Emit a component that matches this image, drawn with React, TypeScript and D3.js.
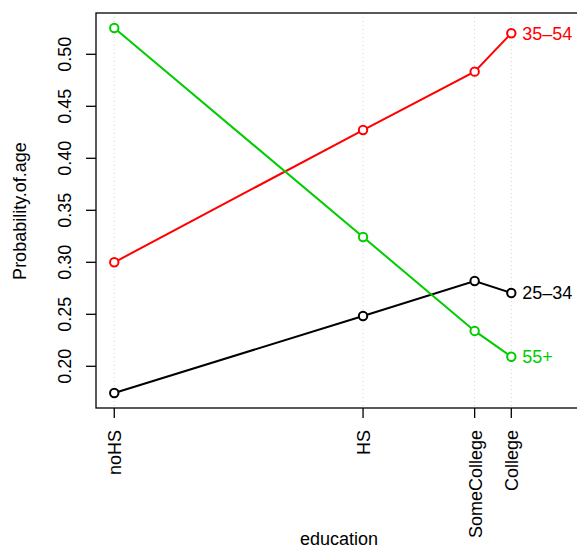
import React from "react";
import * as d3 from "d3";

const educationLevels = ["noHS", "HS", "SomeCollege", "College"];
// horizontal position of each education level on the axis
const educationPos = [0, 0.6266, 0.9077, 1.0];

const seriesNames = ["25–34", "35–54", "55+"];
const age25to34 = [0.1743, 0.2484, 0.2820, 0.2705];
const age35to54 = [0.3000, 0.4272, 0.4833, 0.5202];
const age55plus = [0.5253, 0.3243, 0.2340, 0.2092];
const seriesColors = ["#000000", "#FF0000", "#00CD00"];

const yTicks = [0.2, 0.25, 0.3, 0.35, 0.4, 0.45, 0.5];

const W = 577;
const H = 549;
const left = 96;
const right = 578;
const top = 13;
const bottom = 408;
const FONT = "'Liberation Sans', Arial, Helvetica, sans-serif";

export default function App() {
  const x = d3.scaleLinear().domain([-0.046, 1.168]).range([left, right]);
  const y = d3.scaleLinear().domain([0.2, 0.5]).range([366.3, 54.3]);
  const series = [age25to34, age35to54, age55plus];
  const line = d3
    .line<number>()
    .x((_, i) => x(educationPos[i]))
    .y((d) => y(d));

  return (
    <svg
      width={W}
      height={H}
      style={{ position: "absolute", left: 0, top: 0, background: "#fff" }}
      fontFamily={FONT}
    >
      <rect x={0} y={0} width={W} height={H} fill="#fff" />
      {/* dotted guides at each education level */}
      {educationPos.map((p, i) => (
        <line
          key={"g" + i}
          x1={x(p)}
          x2={x(p)}
          y1={top}
          y2={bottom}
          stroke="#D3D3D3"
          strokeWidth={1}
          strokeDasharray="1 3"
        />
      ))}
      {/* series lines and points */}
      {series.map((vals, s) => (
        <g key={"s" + s}>
          <path d={line(vals) || ""} fill="none" stroke={seriesColors[s]} strokeWidth={2} />
          {vals.map((v, i) => (
            <circle
              key={i}
              cx={x(educationPos[i])}
              cy={y(v)}
              r={4.2}
              fill="#fff"
              stroke={seriesColors[s]}
              strokeWidth={2}
            />
          ))}
          <text
            x={x(educationPos[3]) + 11}
            y={y(vals[3]) + 6.5}
            fontSize={18}
            fill={seriesColors[s]}
          >
            {seriesNames[s]}
          </text>
        </g>
      ))}
      {/* plot frame */}
      <rect
        x={left}
        y={top}
        width={right - left}
        height={bottom - top}
        fill="none"
        stroke="#000"
        strokeWidth={1.3}
      />
      {/* y axis */}
      {yTicks.map((t) => (
        <g key={"y" + t}>
          <line x1={left} x2={left - 10} y1={y(t)} y2={y(t)} stroke="#000" strokeWidth={1.3} />
          <text
            transform={`translate(71,${y(t)}) rotate(-90)`}
            textAnchor="middle"
            fontSize={18}
          >
            {t.toFixed(2)}
          </text>
        </g>
      ))}
      {/* x axis */}
      {educationLevels.map((lab, i) => (
        <g key={"x" + lab}>
          <line
            x1={x(educationPos[i])}
            x2={x(educationPos[i])}
            y1={bottom}
            y2={bottom + 10}
            stroke="#000"
            strokeWidth={1.3}
          />
          <text
            transform={`translate(${x(educationPos[i]) + 7},${bottom + 22}) rotate(-90)`}
            textAnchor="end"
            fontSize={18}
          >
            {lab}
          </text>
        </g>
      ))}
      <text x={339} y={545} textAnchor="middle" fontSize={18}>
        education
      </text>
      <text transform="translate(25.5,211) rotate(-90)" textAnchor="middle" fontSize={18}>
        Probability.of.age
      </text>
    </svg>
  );
}
